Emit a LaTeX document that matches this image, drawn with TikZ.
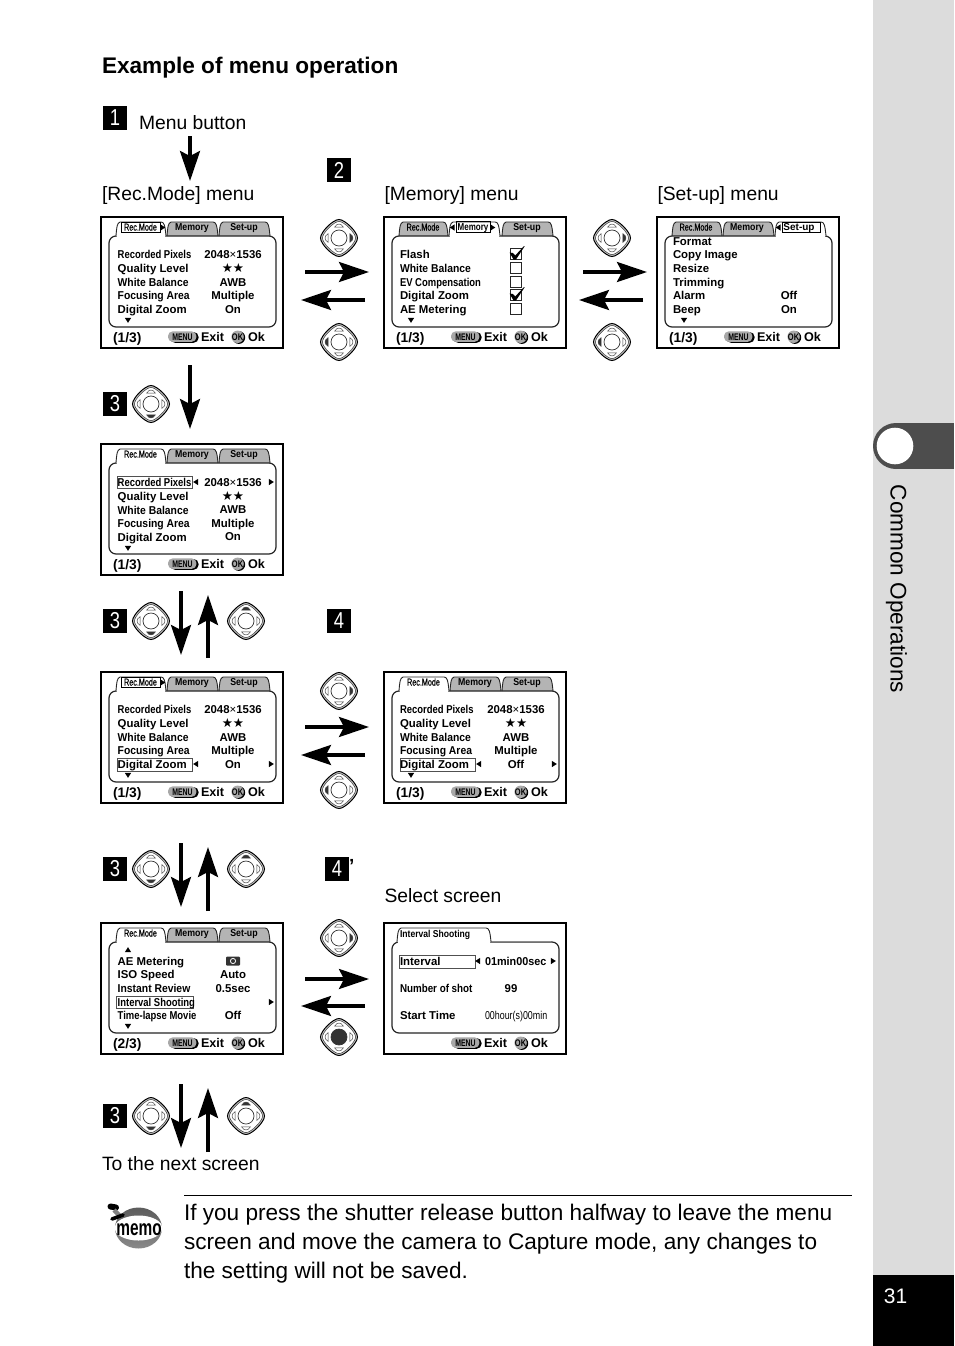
\documentclass[tikz,border=0pt]{standalone}
\usepackage{fontspec}
\setmainfont{Liberation Sans}
\newfontfamily\djv{DejaVu Sans}
\usetikzlibrary{arrows.meta}
\definecolor{sidegrey}{HTML}{DCDCDC}
\definecolor{tabdark}{HTML}{4D4D4D}
\definecolor{tabgrey}{HTML}{B4B4B4}
\definecolor{pillgrey}{HTML}{A8A8A8}
\definecolor{padk}{HTML}{333333}
\definecolor{hlbox}{HTML}{505050}
\newcommand\fsz[1]{\fontsize{#1}{#1}\selectfont}
\newcounter{nd}
\tikzset{
 lbl/.style={inner sep=0pt,outer sep=0pt,anchor=base west},
 lblc/.style={inner sep=0pt,outer sep=0pt,anchor=base},
 bigarrow/.style={line width=3.2pt,-{Stealth[length=30pt,width=20pt,inset=5pt]}},
 frameline/.style={line width=2pt,draw=black,fill=white},
 panelline/.style={line width=1.2pt,draw=black!85,rounded corners=7pt},
 tabline/.style={line width=.9pt,draw=black!85},
 hl/.style={line width=1pt,draw=hlbox},
 hltab/.style={line width=.8pt,draw=black},
 padout/.style={line width=1pt,draw=black,fill=black!22},
 padin/.style={line width=.5pt,draw=black!80,fill=white},
 padtri/.style={line width=.45pt,draw=black!75},
}
\newcommand\tx[4]{\stepcounter{nd}\node[lbl] (n\arabic{nd}) at (#1,#2) {#3#4};}
\newcommand\tc[4]{\stepcounter{nd}\node[lblc] (n\arabic{nd}) at (#1,#2) {#3#4};}
\newcommand\row[3]{\stepcounter{nd}\node[lbl] (n\arabic{nd}) at (#1,{#2+4}) {\fsz{11.4}\bfseries #3};}
\newcommand\rowm[3]{\stepcounter{nd}\node[lbl] (n\arabic{nd}) at (#1,{#2+4}) {\fsz{11.4}\bfseries\scalebox{.91}[1]{#3}};}
\newcommand\rown[3]{\stepcounter{nd}\node[lbl] (n\arabic{nd}) at (#1,{#2+4}) {\fsz{11.4}\bfseries\scalebox{.83}[1]{#3}};}
\newcommand\val[2]{\stepcounter{nd}\node[lblc] (n\arabic{nd}) at (132,{#1+4}) {\fsz{11.4}\bfseries #2};}
\newcommand\stars[1]{\stepcounter{nd}\node[lblc] (n\arabic{nd}) at (132,{#1+4.5}) {\djv\fsz{12.5}★★};}
\newcommand\trir[2]{\fill (#1-2.2,#2-3.2) -- (#1+2.8,#2) -- (#1-2.2,#2+3.2) -- cycle;}
\newcommand\tril[2]{\fill (#1+2.2,#2-3.2) -- (#1-2.8,#2) -- (#1+2.2,#2+3.2) -- cycle;}
\newcommand\trid[2]{\fill (#1-3.2,#2-2.2) -- (#1,#2+2.8) -- (#1+3.2,#2-2.2) -- cycle;}
\newcommand\triu[2]{\fill (#1-3.2,#2+2.2) -- (#1,#2-2.8) -- (#1+3.2,#2+2.2) -- cycle;}
\newcommand\tabpath[2]{(#1,19) .. controls (#1+.7,10) and (#1+1,6) .. (#1+4,5) -- (#2-5,5) .. controls (#2-2,5) and (#2-1,8) .. (#2,19)}
\newcommand\tabg[2]{\fill[tabgrey] \tabpath{#1}{#2} -- cycle; \draw[tabline] \tabpath{#1}{#2};}
\newcommand\tabw[2]{\fill[white] (#1+.6,14) rectangle (#2-.6,20.4); \fill[white] \tabpath{#1}{#2} -- cycle; \draw[tabline] \tabpath{#1}{#2};}
\newcommand\tabtxt[3][.88]{\stepcounter{nd}\node[lblc] (n\arabic{nd}) at (#2,13.7) {\fsz{10}\bfseries\scalebox{#1}[1]{#3}};}
\newcommand\tabrec[1]{\stepcounter{nd}\node[lblc] (n\arabic{nd}) at (#1,13.6) {\fsz{10}\scalebox{.72}[1]{\addfontfeature{FakeBold=.6}Rec.Mode}};}
\newcommand\footbtn{%
 \fill[black,rounded corners=5pt] (69,115) rectangle (97.6,125.8);
 \fill[pillgrey,rounded corners=4.6pt] (67,114.4) rectangle (95.4,124.8);
 \stepcounter{nd}\node[lblc] (n\arabic{nd}) at (81.5,123.3) {\fsz{9.6}\bfseries\scalebox{.72}[1]{MENU}};
 \fill[black] (137.8,120.5) circle (6.4);
 \fill[pillgrey] (136.6,119.8) circle (6.2);
 \stepcounter{nd}\node[lblc] (n\arabic{nd}) at (136.6,123.3) {\fsz{9.6}\bfseries\scalebox{.78}[1]{OK}};
 \tx{100}{124.5}{\fsz{12.6}\bfseries}{Exit}
 \tx{147}{124.5}{\fsz{12.6}\bfseries}{Ok}}
\newcommand\fractxt[1]{\tx{12}{125}{\fsz{13.8}\bfseries}{#1}}
\newcommand\panel{\draw[panelline] (8,19) rectangle (175,110);}
\newcommand\scrbox{\draw[frameline] (0,0) rectangle (182,131);}
\newcommand\stdlabels[2][16.7]{%
 \rown{#1}{#2}{Recorded Pixels}\row{#1}{14+#2}{Quality Level}\rowm{#1}{28+#2}{White Balance}\rowm{#1}{41+#2}{Focusing Area}\row{#1}{55+#2}{Digital Zoom}}
\newcommand\padU[3]{\pad{#1}{#2}{#3}{padk}{white}{white}{white}{white}}
\newcommand\padD[3]{\pad{#1}{#2}{#3}{white}{padk}{white}{white}{white}}
\newcommand\padL[3]{\pad{#1}{#2}{#3}{white}{white}{padk}{white}{white}}
\newcommand\padR[3]{\pad{#1}{#2}{#3}{white}{white}{white}{padk}{white}}
\newcommand\padC[3]{\pad{#1}{#2}{#3}{white}{white}{white}{white}{padk}}
\newcommand\padcentre{white}
\newcommand\pad[8]{\renewcommand\padcentre{#8}\padinner{#1}{#2}{#3}{#4}{#5}{#6}{#7}}
\newcommand\padinner[7]{%
 \begin{scope}[shift={(#2,#3)}]
 \stepcounter{nd}\node[inner sep=0pt,minimum size=37pt] (#1) at (0,0) {};
 \draw[padout] (0,-18.5) .. controls (6,-18.5) and (18.5,-6) .. (18.5,0) .. controls (18.5,6) and (6,18.5) .. (0,18.5) .. controls (-6,18.5) and (-18.5,6) .. (-18.5,0) .. controls (-18.5,-6) and (-6,-18.5) .. (0,-18.5) -- cycle;
 \draw[padin] (0,-16.6) .. controls (5,-16.6) and (16.6,-5) .. (16.6,0) .. controls (16.6,5) and (5,16.6) .. (0,16.6) .. controls (-5,16.6) and (-16.6,5) .. (-16.6,0) .. controls (-16.6,-5) and (-5,-16.6) .. (0,-16.6) -- cycle;
 \draw[padtri,fill=#4] (-4.4,-10.8) .. controls (-2,-15) and (2,-15) .. (4.4,-10.8) -- cycle;
 \draw[padtri,fill=#5] (-4.4,10.8) .. controls (-2,15) and (2,15) .. (4.4,10.8) -- cycle;
 \draw[padtri,fill=#6] (-10.8,-4.4) .. controls (-15,-2) and (-15,2) .. (-10.8,4.4) -- cycle;
 \draw[padtri,fill=#7] (10.8,-4.4) .. controls (15,-2) and (15,2) .. (10.8,4.4) -- cycle;
 \draw[line width=.7pt,draw=black!80,fill=\padcentre] (0,0) circle (8);
 \end{scope}}
\newcommand\stepno[4]{\stepcounter{nd}\fill[black] (#2,#3) rectangle ++(24,24);
 \node[inner sep=0pt,text=white,font=\fsz{23}] (#1) at (#2+12,#3+12) {\scalebox{.8}[1]{#4}};}
\newcommand\arr[5]{\coordinate (#1a) at (#2,#3); \coordinate (#1b) at (#4,#5); \draw[bigarrow] (#1a) -- (#1b);}
\newcommand\chk[2]{\fill[black] (#1-5.5,#2-1.5) -- (#1-2,#2-1) -- (#1+.2,#2+1.5) -- (#1+9,#2-8) -- (#1+9.5,#2-7.5) -- (#1+1,#2+5.5) -- (#1-1.5,#2+5.5) -- cycle;}
\begin{document}
\begin{tikzpicture}[x=1pt,y=-1pt]
\useasboundingbox (0,0) rectangle (954,1346);
\fill[white] (0,0) rectangle (954,1346);
\fill[sidegrey] (873,0) rectangle (954,1346);
\fill[tabdark] (896,423) rectangle (954,469);
\fill[tabdark] (896,446) circle (23);
\fill[white] (895,446) circle (18.3);
\stepcounter{nd}\node[inner sep=0pt,rotate=-90,font=\fsz{22.6}] (sidetitle) at (896.5,589) {Common Operations};
\fill[black] (873,1275) rectangle (954,1346);
\stepcounter{nd}\node[lblc,text=white,font=\fsz{21}] (pageno) at (895.5,1303) {31};
\tx{102}{74}{\fsz{22.6}\bfseries}{Example of menu operation}
\stepno{s1}{103}{106}{1}
\tx{139}{129}{\fsz{19.3}}{Menu button}
\tx{102}{200}{\fsz{19.3}}{[Rec.Mode] menu}
\tx{384.5}{200}{\fsz{19.3}}{[Memory] menu}
\tx{657.5}{200}{\fsz{19.3}}{[Set-up] menu}
\tx{384.5}{902}{\fsz{19.3}}{Select screen}
\tx{102}{1170}{\fsz{19.3}}{To the next screen}
\stepno{s2}{327}{158}{2}
\stepno{s3a}{103}{392}{3}
\stepno{s3b}{103}{609}{3}
\stepno{s4a}{327}{609}{4}
\stepno{s3c}{103}{857}{3}
\stepno{s4b}{325}{857}{4}
\tx{349}{872}{\fsz{19}\bfseries}{’}
\stepno{s3d}{103}{1104}{3}
% screen 1
\begin{scope}[shift={(101,217)}]
\scrbox \tabg{66}{117}\tabg{118}{169}\panel\tabw{15}{65}
\draw[hltab] (20,5) rectangle (59,15.5); \trir{61.5}{10.5}
\tabrec{39.5}\tabtxt{91}{Memory}\tabtxt{143}{Set-up}
\stdlabels{37}
\val{37}{2048{\mdseries×}1536}\stars{51}\val{65}{AWB}\val{78}{Multiple}\val{92}{On}
\trid{27}{103}
\fractxt{(1/3)}\footbtn
\end{scope}
% screen 2
\begin{scope}[shift={(384,217)}]
\scrbox \tabg{15}{64}\tabg{118}{169}\panel\tabw{65}{116}
\draw[hltab] (72,4.5) rectangle (106,15.5); \tril{68.5}{10.5}\trir{108.5}{10.5}
\tabrec{39}\tabtxt[.8]{89}{Memory}\tabtxt{143}{Set-up}
\row{16}{37}{Flash}\rowm{16}{51}{White Balance}
\rown{16}{65}{EV Compensation}\row{16}{78}{Digital Zoom}\row{16}{92}{AE Metering}
\foreach \yy in {37,51,65,78,92}{\draw[line width=.7pt,draw=black!85] (126,\yy-5.5) rectangle (137.5,\yy+5.5);}
\chk{131}{37}\chk{131}{78}
\trid{27}{103}
\fractxt{(1/3)}\footbtn
\end{scope}
% screen 3
\begin{scope}[shift={(657,217)}]
\scrbox \tabg{15}{65}\tabg{66}{117}\panel\tabw{118}{169}
\draw[hltab] (125,5) rectangle (163,15.5); \tril{121.5}{10.5}
\tabrec{39}\tabtxt{90}{Memory}\tabtxt[1]{142}{Set-up}
\row{16}{24}{Format}\row{16}{37}{Copy Image}\row{16}{51}{Resize}\row{16}{65}{Trimming}\row{16}{78}{Alarm}\row{16}{92}{Beep}
\val{78}{Off}\val{92}{On}
\trid{27}{103}
\fractxt{(1/3)}\footbtn
\end{scope}
% screen 4
\begin{scope}[shift={(101,444)}]
\scrbox \tabg{66}{117}\tabg{118}{169}\panel\tabw{15}{65}
\tabrec{39.5}\tabtxt{91}{Memory}\tabtxt{143}{Set-up}
\draw[hl] (16,32) rectangle (91,44);
\stdlabels{38}
\tril{95}{38}\val{38}{2048{\mdseries×}1536}\trir{170}{38}
\stars{52}\val{65}{AWB}\val{79}{Multiple}\val{92}{On}
\trid{27}{104}
\fractxt{(1/3)}\footbtn
\end{scope}
% screen 5
\begin{scope}[shift={(101,672)}]
\scrbox \tabg{66}{117}\tabg{118}{169}\panel\tabw{15}{65}
\draw[hltab] (20,5) rectangle (59,15.5); \trir{61.5}{10.5}
\tabrec{39.5}\tabtxt{91}{Memory}\tabtxt{143}{Set-up}
\draw[hl] (16,86) rectangle (91,99);
\stdlabels{37}
\val{37}{2048{\mdseries×}1536}\stars{51}\val{65}{AWB}\val{78}{Multiple}
\tril{95}{92}\val{92}{On}\trir{170}{92}
\trid{27}{103}
\fractxt{(1/3)}\footbtn
\end{scope}
% screen 6
\begin{scope}[shift={(384,672)}]
\scrbox \tabg{66}{117}\tabg{118}{169}\panel\tabw{15}{65}
\tabrec{39.5}\tabtxt{91}{Memory}\tabtxt{143}{Set-up}
\draw[hl] (16,86) rectangle (91,99);
\stdlabels[16]{37}
\val{37}{2048{\mdseries×}1536}\stars{51}\val{65}{AWB}\val{78}{Multiple}
\tril{95}{92}\val{92}{Off}\trir{170}{92}
\trid{27}{103}
\fractxt{(1/3)}\footbtn
\end{scope}
% screen 7
\begin{scope}[shift={(101,923)}]
\scrbox \tabg{66}{117}\tabg{118}{169}\panel\tabw{15}{65}
\tabrec{39.5}\tabtxt{91}{Memory}\tabtxt{143}{Set-up}
\triu{27}{27}
\row{16.7}{38}{AE Metering}\row{16.7}{51}{ISO Speed}\rowm{16.7}{65}{Instant Review}
\draw[hl] (15,73) rectangle (92,85);
\rown{16.7}{79}{Interval Shooting}\rown{16.7}{92}{Time-lapse Movie}
\fill[black!80,rounded corners=1pt] (125,33.5) rectangle (139,42.5);
\draw[white,line width=.8pt] (132,38) circle (2.6);
\val{51}{Auto}\val{65}{0.5sec}\trir{170}{79}\val{92}{Off}
\trid{27}{103}
\fractxt{(2/3)}\footbtn
\end{scope}
% screen 8
\begin{scope}[shift={(384,923)}]
\scrbox \panel \draw[line width=1.6pt,draw=black!45] (107,18.6) -- (167,18.6); \tabw{13}{107}
\stepcounter{nd}\node[lbl] (n\arabic{nd}) at (16,14.5) {\fsz{10}\bfseries\scalebox{.86}[1]{Interval Shooting}};
\draw[hl] (15,32) rectangle (91,45);
\row{16}{38}{Interval}
\tril{94}{38}\trir{169}{38}
\stepcounter{nd}\node[lbl] (n\arabic{nd}) at (101,42) {\fsz{11.4}\bfseries\scalebox{.95}[1]{01min00sec}};
\stepcounter{nd}\node[lbl] (n\arabic{nd}) at (16,69) {\fsz{11.4}\bfseries\scalebox{.86}[1]{Number of shot}};
\tc{127}{69}{\fsz{11.4}\bfseries}{99}
\row{16}{92}{Start Time}
\stepcounter{nd}\node[lbl] (n\arabic{nd}) at (101,96) {\fsz{11.4}\scalebox{.78}[1]{00hour(s)00min}};
\footbtn
\end{scope}
% d-pads
\padR{pa}{339}{238}\padL{pb}{339}{342}
\padR{pc}{612}{238}\padL{pd}{612}{342}
\padD{pe}{151}{404}
\padD{pf}{151}{621}\padU{pg}{246}{621}
\padR{ph}{339}{691}\padL{pi}{339}{790}
\padD{pj}{151}{869}\padU{pk}{246}{869}
\padR{pl}{339}{938}\padC{pm}{339}{1037}
\padD{pn}{151}{1116}\padU{po}{246}{1116}
% arrows
\arr{a1}{190}{136}{190}{181}
\arr{a2}{305}{272}{369}{272}\arr{a3}{365}{300}{301}{300}
\arr{a4}{583}{272}{647}{272}\arr{a5}{643}{300}{579}{300}
\arr{a6}{190}{365}{190}{429}
\arr{a7}{181}{591}{181}{655}\arr{a8}{208}{658}{208}{595}
\arr{a9}{305}{727}{369}{727}\arr{a10}{365}{755}{301}{755}
\arr{a11}{181}{843}{181}{907}\arr{a12}{208}{911}{208}{847}
\arr{a13}{305}{979}{369}{979}\arr{a14}{365}{1006}{301}{1006}
\arr{a15}{181}{1084}{181}{1148}\arr{a16}{208}{1152}{208}{1088}
% memo note
\coordinate (ruleL) at (184,1195.5); \coordinate (ruleR) at (852,1195.5);
\draw[line width=.8pt] (ruleL) -- (ruleR);
\begin{scope}
\clip (138.5,1228) ellipse (23.5 and 20.5);
\shade[top color=black!65,bottom color=black!45] (112,1205) rectangle (164,1251);
\fill[white] (138.5,1228) ellipse (24 and 12.5);
\end{scope}
\draw[line width=6pt,black,line cap=round] (110.5,1206.5) -- (116,1207.5);
\draw[line width=4.5pt,black!50] (114,1210) -- (120,1216);
\draw[line width=3.6pt,black,line cap=round] (112,1219) -- (123,1215);
\stepcounter{nd}\node[lblc,font=\fsz{22}\bfseries] (memo) at (139,1235.5) {\scalebox{.7}[1]{memo}};
\tx{184}{1220.6}{\fsz{22.6}}{If you press the shutter release button halfway to leave the menu}
\tx{184}{1249.6}{\fsz{22.6}}{screen and move the camera to Capture mode, any changes to}
\tx{184}{1278.6}{\fsz{22.6}}{the setting will not be saved.}
\end{tikzpicture}
\end{document}
